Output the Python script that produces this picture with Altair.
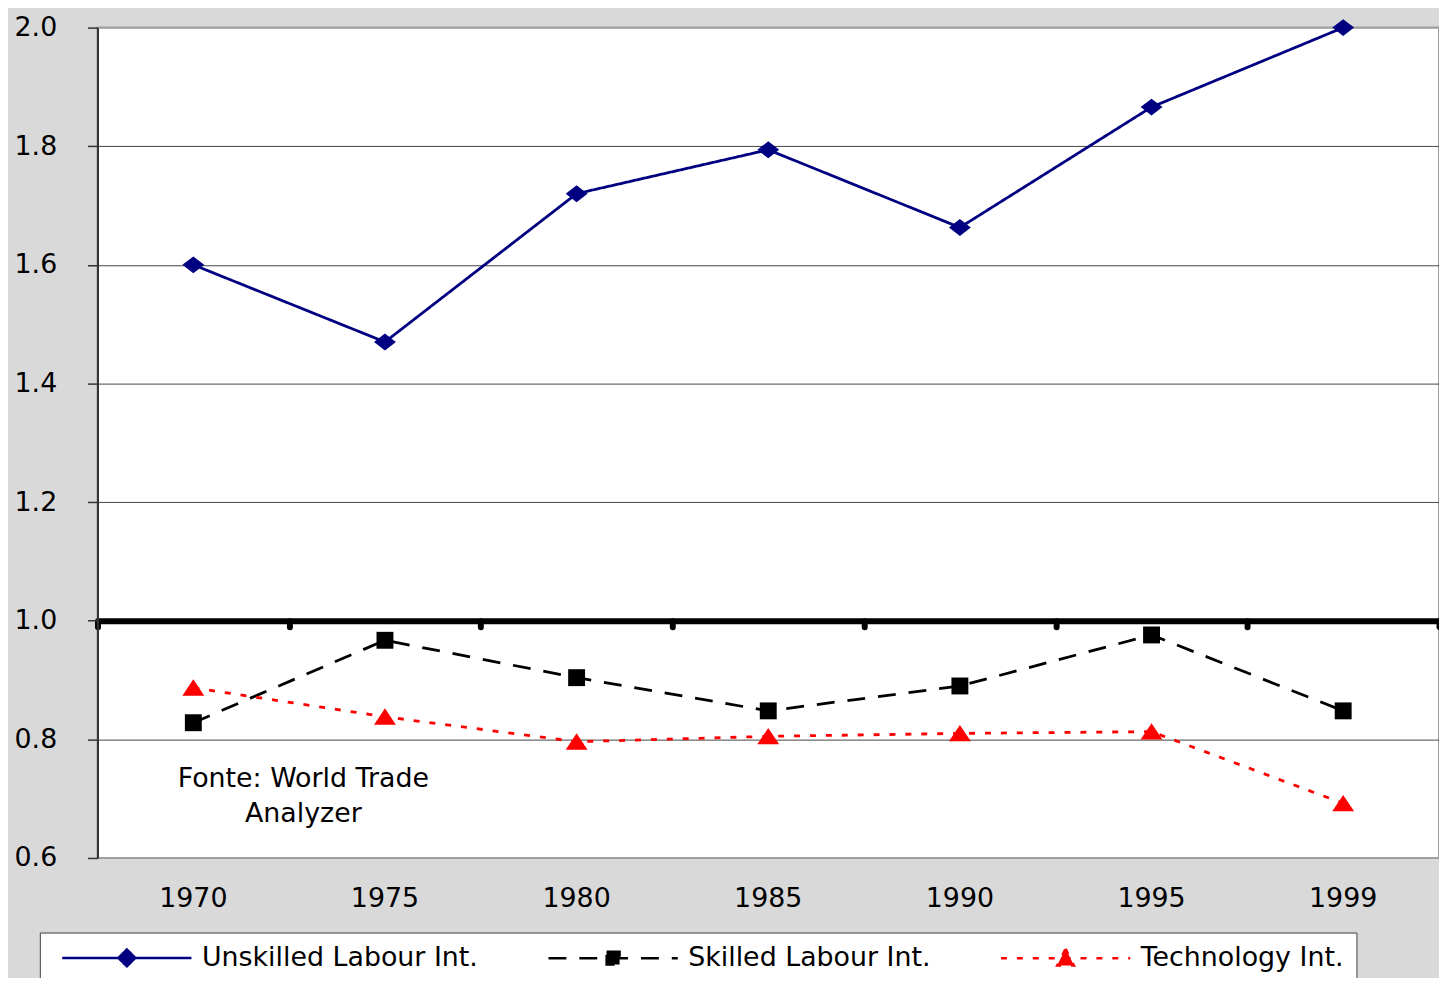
import altair as alt
import pandas as pd

# ---- data ----
years = ["1970", "1975", "1980", "1985", "1990", "1995", "1999"]
unskilled = [1.60, 1.47, 1.72, 1.794, 1.663, 1.866, 2.00]
skilled = [0.828, 0.967, 0.904, 0.848, 0.89, 0.976, 0.848]
technology = [0.887, 0.838, 0.796, 0.805, 0.81, 0.813, 0.692]
series_names = ["Unskilled Labour Int.", "Skilled Labour Int.", "Technology Int."]
y_ticks = [0.6, 0.8, 1.0, 1.2, 1.4, 1.6, 1.8, 2.0]
note_text = "Fonte: World Trade\nAnalyzer"

# ---- styling ----
series_colors = ["#000080", "#000000", "#FF0000"]
dashes = [[1, 0], [18, 13], [6, 10]]
marker_paths = [
    "M-2.2,0L0,-1.7L2.2,0L0,1.7Z",
    "M-1.7,-1.7H1.7V1.7H-1.7Z",
    "M0,-1.7L2.2,1.6L-2.2,1.6Z",
]
legend_paths = [
    "M-0.3,0H12.7M5.35,0L6.2,-0.85L7.05,0L6.2,0.85Z",
    "M-0.3,0H12.7M5.55,-0.65H6.85V0.65H5.55Z",
    "M-0.3,0H12.7M6.2,-0.95L7.05,0.75L5.35,0.75Z",
]
FONT = "DejaVu Sans"
W, H = 1349, 835
Y0, Y1 = 0.6, 2.0
BASE = 1.0
axis_offset = -H * (BASE - Y0) / (Y1 - Y0)

rows = []
for name, vals in zip(series_names, [unskilled, skilled, technology]):
    for yr, v in zip(years, vals):
        rows.append({"year": yr, "series": name, "value": v})
df = pd.DataFrame(rows)

xscale = alt.Scale(type="band", domain=years, paddingInner=0, paddingOuter=0)
yscale = alt.Scale(domain=[Y0, Y1], nice=False, zero=False)
cscale = alt.Scale(domain=series_names, range=series_colors)
dscale = alt.Scale(domain=series_names, range=dashes)

base = alt.Chart(df)

x_label_axis = alt.Axis(
    title=None, orient="bottom", domain=False, ticks=False, grid=False,
    labelPadding=28, labelFontSize=27, labelFont=FONT, labelColor="black",
    labelAngle=0,
)
x_tick_axis = alt.Axis(
    title=None, orient="bottom", labels=False, grid=False,
    domainColor="black", domainWidth=6,
    tickColor="black", tickWidth=6, tickSize=6, tickCap="round",
    tickBand="extent", offset=axis_offset,
)
y_axis = alt.Axis(
    title=None, values=y_ticks, format=".1f",
    labelFontSize=27, labelFont=FONT, labelColor="black", labelPadding=31,
    tickSize=10, tickColor="#333333", tickWidth=1.5,
    domainColor="#333333", domainWidth=2,
    grid=True, gridWidth=1,
    gridColor={"condition": {"test": "datum.value <= 0.6 || datum.value >= 2.0",
                             "value": "#a0a0a0"}, "value": "#444444"},
)

leg = alt.Legend(
    title=None, orient="none", legendX=-58, legendY=910, direction="horizontal",
    symbolSize=400, symbolStrokeWidth=2.5, symbolOpacity=1,
    labelOffset=124, columnPadding=60,
    labelFontSize=27, labelFont=FONT, labelColor="black", labelLimit=0,
    fillColor="white", strokeColor="#404040", padding=12,
)

legend_layer = base.mark_point(filled=True, opacity=0).encode(
    x=alt.X("year:O", scale=xscale, bandPosition=0.5, axis=None),
    y=alt.Y("value:Q", scale=yscale),
    fill=alt.Fill("series:N", scale=alt.Scale(domain=series_names, range=series_colors), legend=leg),
    stroke=alt.Stroke("series:N", scale=alt.Scale(domain=series_names, range=series_colors), legend=leg),
    shape=alt.Shape("series:N", scale=alt.Scale(domain=series_names, range=legend_paths), legend=leg),
    strokeDash=alt.StrokeDash("series:N", scale=dscale, legend=leg),
)

lines = base.mark_line(strokeWidth=2.8).encode(
    x=alt.X("year:O", scale=xscale, bandPosition=0.5, axis=x_label_axis),
    y=alt.Y("value:Q", scale=yscale, axis=y_axis),
    color=alt.Color("series:N", scale=cscale, legend=None),
    strokeDash=alt.StrokeDash("series:N", scale=dscale),
)

shape_cond = {
    "condition": [
        {"test": f"datum.series === '{n}'", "value": p}
        for n, p in zip(series_names[:2], marker_paths[:2])
    ],
    "value": marker_paths[2],
}

points = base.mark_point(filled=True, size=100, opacity=1).encode(
    x=alt.X("year:O", scale=xscale, bandPosition=0.5, axis=x_tick_axis),
    y=alt.Y("value:Q", scale=yscale),
    color=alt.Color("series:N", scale=cscale, legend=None),
    shape=shape_cond,
)

note = alt.Chart(pd.DataFrame({"t": [note_text]})).mark_text(
    lineBreak="\n", align="center", baseline="middle", fontSize=27,
    font=FONT, color="black", lineHeight=35,
).encode(text="t:N", x=alt.value(207), y=alt.value(756))

chart = (
    alt.layer(legend_layer, lines, points, note)
    .resolve_axis(x="independent")
    .properties(
        width=W, height=H, background="#d9d9d9",
        padding={"left": 90, "top": 17, "right": 0, "bottom": 118},
        autosize=alt.AutoSizeParams(type="none"),
    )
    .configure_view(fill="white", stroke="#a0a0a0", strokeWidth=2)
)

chart.save("out.html", embed_options={"renderer": "svg", "actions": False})
